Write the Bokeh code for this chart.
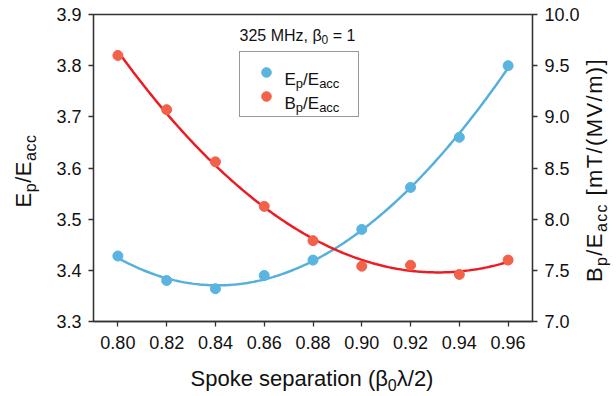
import numpy as np
from bokeh.plotting import figure
from bokeh.layouts import row, column
from bokeh.models import (Range1d, LinearAxis, FixedTicker, NumeralTickFormatter,
                          Label, Legend, LegendItem, Div)
from bokeh.embed import file_html
from bokeh.resources import INLINE

# ---------------- data ----------------
spacing = [0.80, 0.82, 0.84, 0.86, 0.88, 0.90, 0.92, 0.94, 0.96]
ep_eacc = [3.428, 3.380, 3.364, 3.390, 3.420, 3.480, 3.562, 3.660, 3.800]
bp_eacc = [9.60, 9.07, 8.56, 8.125, 7.79, 7.54, 7.55, 7.46, 7.60]
x_ticks = [0.80, 0.82, 0.84, 0.86, 0.88, 0.90, 0.92, 0.94, 0.96]
left_ticks = [3.3, 3.4, 3.5, 3.6, 3.7, 3.8, 3.9]
right_ticks = [7.0, 7.5, 8.0, 8.5, 9.0, 9.5, 10.0]
title_text = ["325 MHz, \u03b2", "0", " = 1"]

BLUE_PT = "#5ab4e0"
BLUE_LN = "#56b0dc"
RED_PT = "#f2624a"
RED_LN = "#ec1c24"
AX = "#333333"
TXT = "#111111"
FONT = "Liberation Sans"

# canvas geometry (pixels)
W, H = 616, 396
LW, RW, BH = 45, 31, 36          # label strips
MW, MH = W - LW - RW, H - BH      # main figure
FL, FR, FT, FB = 93, 532, 14, 321  # frame edges in canvas pixels

p = figure(width=MW, height=MH, output_backend="svg", toolbar_location=None,
           x_range=Range1d(0.79, 0.97), y_range=Range1d(3.3, 3.9),
           min_border_left=FL - LW, min_border_right=LW + MW - FR,
           min_border_top=FT, min_border_bottom=MH - FB,
           x_axis_location="below", y_axis_location="left", margin=0)
p.extra_y_ranges = {"right": Range1d(7.0, 10.0)}
p.xgrid.visible = False
p.ygrid.visible = False
p.outline_line_color = AX
p.outline_line_width = 1.3
p.background_fill_color = "white"
p.border_fill_color = "white"

raxis = LinearAxis(y_range_name="right")
p.add_layout(raxis, "right")

def style_axis(ax, ticks, fmt, standoff):
    ax.ticker = FixedTicker(ticks=ticks)
    ax.formatter = NumeralTickFormatter(format=fmt)
    ax.axis_line_color = AX
    ax.axis_line_width = 1.3
    ax.major_tick_line_color = AX
    ax.major_tick_line_width = 1.3
    ax.major_tick_in = 0
    ax.major_tick_out = 5
    ax.minor_tick_line_color = None
    ax.major_label_text_font = FONT
    ax.major_label_text_font_size = "18px"
    ax.major_label_text_color = TXT
    ax.major_label_standoff = standoff
    ax.axis_label = None

style_axis(p.xaxis[0], x_ticks, "0.00", 9)
style_axis(p.yaxis[0], left_ticks, "0.0", 7)
style_axis(raxis, right_ticks, "0.0", 7)

# ---------------- fitted curves (least squares fits of the data) ----------------
xs = np.linspace(spacing[0], spacing[-1], 200)
blue_fit = np.polyval(np.polyfit(spacing, ep_eacc, 3), xs)
red_fit = np.polyval(np.polyfit(spacing, bp_eacc, 2), xs)

p.line(xs, blue_fit, line_color=BLUE_LN, line_width=2.5)
p.line(xs, red_fit, line_color=RED_LN, line_width=2.5, y_range_name="right")
r_blue = p.scatter(spacing, ep_eacc, size=10, fill_color=BLUE_PT, line_color=BLUE_PT)
r_red = p.scatter(spacing, bp_eacc, size=10, fill_color=RED_PT, line_color=RED_PT,
                  y_range_name="right")

# ---------------- legend box with markers ----------------
legend = Legend(items=[LegendItem(label=" ", renderers=[r_blue]),
                       LegendItem(label=" ", renderers=[r_red])],
                location=(239 - FL, FB - 117), padding=8, margin=0,
                glyph_width=36, glyph_height=24, label_width=61, label_height=24,
                spacing=0, label_standoff=5, label_text_font_size="1px",
                border_line_color=AX, border_line_width=1.2,
                background_fill_alpha=0)
p.add_layout(legend)

# ---------------- rich text inside the frame ----------------
WID = {'E': .667, 'p': .556, '/': .278, 'a': .556, 'c': .5, 'B': .667, ' ': .278,
       '\u03b2': .575, '0': .556, '3': .556, '2': .556, '5': .556, 'M': .833,
       'H': .722, 'z': .5, ',': .278, '=': .584, '1': .556}

def tw(t, s):
    return sum(WID.get(ch, .556) for ch in t) * s

def place(pieces, X, Y):
    """pieces: (text, size_px, shift_down_px); X,Y canvas coords of baseline start."""
    pos = 0.0
    for t, s, d in pieces:
        lead = len(t) - len(t.lstrip(" "))
        pos += tw(" " * lead, s)
        t = t.lstrip(" ")
        p.add_layout(Label(x=X + pos - FL, y=FB - (Y + d), x_units="screen",
                           y_units="screen", text=t, text_font=FONT,
                           text_font_size=f"{s}px", text_color=TXT,
                           text_baseline="alphabetic", text_align="left",
                           level="overlay"))
        pos += tw(t, s)

place([(title_text[0], 16, 0), (title_text[1], 12, 4), (title_text[2], 16, 0)], 239, 35)
place([("E", 17, 0), ("p", 13, 4), ("/E", 17, 0), ("acc", 13, 4)], 284, 78.5)
place([("B", 17, 0), ("p", 13, 4), ("/E", 17, 0), ("acc", 13, 4)], 284, 102.5)

# ---------------- axis titles as HTML text in side strips ----------------
def sub(t):
    return f'<span style="font-size:16px;position:relative;top:5px">{t}</span>'

def label_div(w, h, html, cx, cy, rotate, spacing_px=0.0):
    rot = " rotate(-90deg)" if rotate else ""
    inner = (f'<div style="position:relative;width:{w}px;height:{h}px;overflow:visible;">'
             f'<div style="position:absolute;left:{cx}px;top:{cy}px;'
             f'transform:translate(-50%,-50%){rot};white-space:nowrap;'
             f'letter-spacing:{spacing_px}px;'
             f'font-family:\'{FONT}\';font-size:22px;line-height:1;color:{TXT};">'
             f'{html}</div></div>')
    return Div(text=inner, width=w, height=h, margin=0,
               styles={"overflow": "visible"})

x_title = f"Spoke separation (\u03b2{sub('0')}\u03bb/2)"
yl_title = f"E{sub('p')}/E{sub('acc')}"
yr_title = f"B{sub('p')}/E{sub('acc')} [mT/(MV/m)]"

left_div = label_div(LW, H, yl_title, 24, 171, True, 0.5)
right_div = label_div(RW, H, yr_title, 595 - (LW + MW), 170, True, 1.4)
bottom_div = label_div(MW, BH, x_title, 312 - LW, 19, False)

layout = row(left_div, column(p, bottom_div, spacing=0), right_div, spacing=0)
open("out.html", "w").write(file_html(layout, INLINE))
